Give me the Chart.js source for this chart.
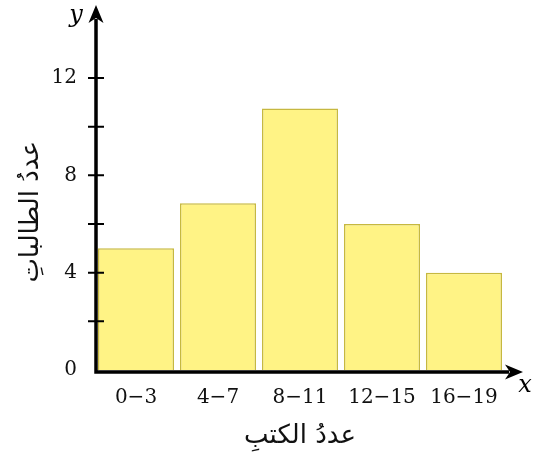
<!DOCTYPE html>
<html><head><meta charset="utf-8">
<script src="https://cdn.jsdelivr.net/npm/chart.js@4"></script>
<style>html,body{margin:0;padding:0;background:#fff}#wrap{width:533px;height:472px;position:relative}</style>
</head><body><div id="wrap"><canvas id="c"></canvas></div>
<script>
const categories = ['0−3', '4−7', '8−11', '12−15', '16−19'];
const counts = [5, 6.85, 10.75, 6, 4];
const yTickLabels = [0, 4, 8, 12];
const yTickMarks = [2, 4, 6, 8, 10, 12];
const yMax = 15;
const xTitle = 'عددُ الكتبِ';
const yTitle = 'عددُ الطالباتِ';
const xLetter = 'x';
const yLetter = 'y';

const axesPlugin = {
  id: 'axes',
  afterDatasetsDraw(chart) {
    const {ctx, chartArea: a, scales: {x, y}} = chart;
    const x0 = a.left + 1;
    const y0 = y.getPixelForValue(0) + 2;
    const tipY = y.getPixelForValue(yMax);
    const tipX = a.right + 18;
    ctx.save();
    ctx.strokeStyle = '#000';
    ctx.fillStyle = '#000';
    ctx.lineWidth = 3.5;
    ctx.beginPath();
    ctx.moveTo(x0, y0 + 1.75); ctx.lineTo(x0, tipY + 14);
    ctx.moveTo(x0 - 1.75, y0); ctx.lineTo(tipX - 14, y0);
    ctx.stroke();
    ctx.beginPath();
    ctx.moveTo(x0, tipY);
    ctx.lineTo(x0 - 7.5, tipY + 18);
    ctx.lineTo(x0, tipY + 13);
    ctx.lineTo(x0 + 7.5, tipY + 18);
    ctx.closePath(); ctx.fill();
    ctx.beginPath();
    ctx.moveTo(tipX, y0);
    ctx.lineTo(tipX - 18, y0 - 7.5);
    ctx.lineTo(tipX - 13, y0);
    ctx.lineTo(tipX - 18, y0 + 7.5);
    ctx.closePath(); ctx.fill();
    ctx.lineWidth = 2;
    ctx.beginPath();
    yTickMarks.forEach(v => {
      const py = y.getPixelForValue(v);
      ctx.moveTo(x0 - 8, py); ctx.lineTo(x0 + 8, py);
    });
    ctx.stroke();
    ctx.font = 'italic 24px "DejaVu Serif"';
    ctx.textAlign = 'center';
    ctx.textBaseline = 'middle';
    ctx.fillText(yLetter, x0 - 20, tipY + 11);
    ctx.fillText(xLetter, tipX + 2, y0 + 14);
    // y axis title (rotated, reading upward)
    ctx.fillStyle = '#111';
    ctx.font = '26px "DejaVu Sans"';
    ctx.translate(31, y.getPixelForValue(6.5));
    ctx.rotate(-Math.PI / 2);
    ctx.fillText(yTitle, 0, 0);
    ctx.restore();
  }
};

new Chart(document.getElementById('c'), {
  type: 'bar',
  data: {
    labels: categories,
    datasets: [{
      data: counts,
      backgroundColor: '#fff385',
      borderColor: '#c6b840',
      borderWidth: 1.5,
      barPercentage: 0.927,
      categoryPercentage: 1
    }]
  },
  options: {
    responsive: true,
    maintainAspectRatio: false,
    animation: false,
    layout: {padding: {left: 0, right: 28, top: 5, bottom: 0}},
    plugins: {legend: {display: false}, tooltip: {enabled: false}},
    scales: {
      x: {
        grid: {display: false, drawTicks: false},
        border: {display: false},
        ticks: {font: {family: 'DejaVu Serif', size: 20}, color: '#111', padding: 16, maxRotation: 0, autoSkip: false},
        title: {display: true, text: xTitle, color: '#111', font: {family: 'DejaVu Sans', size: 26}, padding: {top: 0, bottom: 20}},
        afterFit(s) { s.height = 102; s.paddingLeft = 0; s.paddingRight = 0; }
      },
      y: {
        min: 0, max: yMax,
        grid: {display: false, drawTicks: false},
        border: {display: false},
        afterBuildTicks(s) { s.ticks = yTickLabels.map(v => ({value: v})); },
        ticks: {font: {family: 'DejaVu Serif', size: 20}, color: '#111', padding: 18},
        title: {display: false, text: yTitle},
        afterFit(s) { s.width = 95; s.paddingTop = 0; s.paddingBottom = 0; }
      }
    }
  },
  plugins: [axesPlugin]
});
</script>
</body></html>
